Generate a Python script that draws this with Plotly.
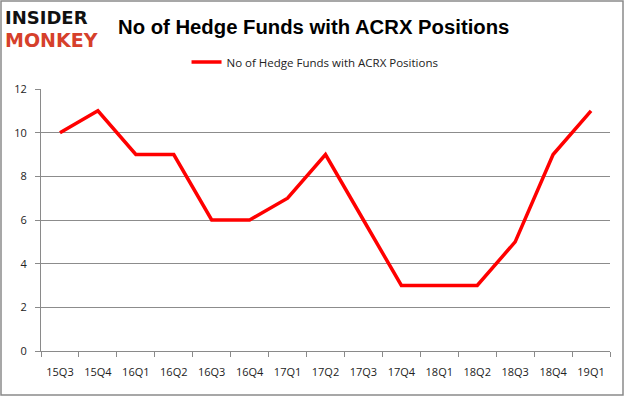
import plotly.graph_objects as go

quarters = ["15Q3", "15Q4", "16Q1", "16Q2", "16Q3", "16Q4", "17Q1", "17Q2",
            "17Q3", "17Q4", "18Q1", "18Q2", "18Q3", "18Q4", "19Q1"]
funds = [10, 11, 9, 9, 6, 6, 7, 9, 6, 3, 3, 3, 5, 9, 11]
y_ticks = [0, 2, 4, 6, 8, 10, 12]

fig = go.Figure()
fig.add_trace(go.Scatter(
    x=quarters, y=funds, mode="lines",
    name="No of Hedge Funds with ACRX Positions",
    line=dict(color="#ff0000", width=3.5),
))

font_family = "Open Sans, Liberation Sans, Arial, sans-serif"
PW, PH, L, T = 569, 262, 41, 89

fig.update_layout(
    width=626, height=397,
    margin=dict(l=L, r=16, t=T, b=46),
    paper_bgcolor="white", plot_bgcolor="white",
    showlegend=True,
    legend=dict(orientation="h", x=0.4816, xanchor="center", y=1 + (T - 62) / PH, yanchor="middle",
                font=dict(size=11.5, color="#222", family=font_family),
                bgcolor="rgba(0,0,0,0)", itemwidth=30),
    font=dict(family=font_family, size=11, color="#222"),
    annotations=[
        dict(text="<b>No of Hedge Funds with ACRX Positions</b>", xref="paper", yref="paper",
             x=(313 - L) / PW, y=1 + (T - 27) / PH, xanchor="center", yanchor="middle",
             showarrow=False,
             font=dict(size=20.3, color="black", family="Liberation Sans, Arial, sans-serif")),
        dict(text="<b>INSIDER</b>", xref="paper", yref="paper", x=(3 - L) / PW, y=1 + (T - 17) / PH,
             xanchor="left", yanchor="middle", showarrow=False,
             font=dict(size=18, color="#111", family="DejaVu Sans, sans-serif")),
        dict(text="<b>MONKEY</b>", xref="paper", yref="paper", x=(3 - L) / PW, y=1 + (T - 40) / PH,
             xanchor="left", yanchor="middle", showarrow=False,
             font=dict(size=19, color="#d6402b", family="DejaVu Sans, sans-serif")),
    ],
    shapes=[
        dict(type="rect", xref="paper", yref="paper",
             x0=(1 - L) / PW, x1=(623 - L) / PW, y0=-(395 - 351) / PH, y1=1 + (T - 1) / PH,
             line=dict(color="#8a8a8a", width=1.5), fillcolor="rgba(0,0,0,0)", layer="below"),
    ],
)
fig.update_xaxes(
    type="category", range=[-0.5, 14.5], showgrid=False, showline=True,
    linecolor="#8a8a8a", linewidth=1,
    ticks="outside", tickson="boundaries", ticklen=5, tickcolor="#8a8a8a",
    ticklabelstandoff=11, tickfont=dict(size=11, color="#222"), automargin=False,
)
fig.update_yaxes(
    range=[0, 12], tickvals=y_ticks, showgrid=True, gridcolor="#8c8c8c", gridwidth=1,
    showline=True, linecolor="#8a8a8a", linewidth=1, ticks="outside", ticklen=5,
    tickcolor="#8a8a8a", zeroline=False, tickfont=dict(size=11, color="#222"),
    ticklabelstandoff=6, automargin=False,
)

fig.write_html("out.html", config={"displayModeBar": False},
               post_script="document.body.style.margin='0';document.body.style.overflow='hidden';")
